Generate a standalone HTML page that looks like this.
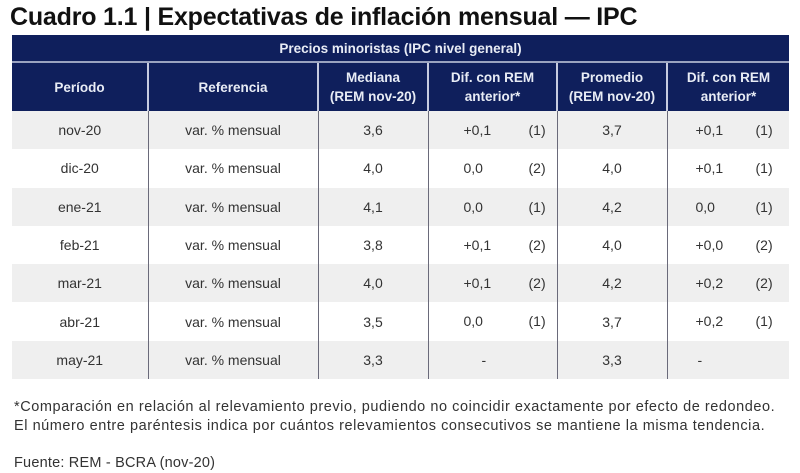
<!DOCTYPE html>
<html><head><meta charset="utf-8"><style>
body{margin:0;width:800px;height:473px;background:#fff;font-family:"Liberation Sans",Arial,sans-serif;position:relative;overflow:hidden;color:#333}
.t{position:absolute;left:10px;top:3px;font-size:25px;font-weight:bold;color:#111;letter-spacing:-0.2px}
table{position:absolute;left:12px;top:35px;border-collapse:collapse;width:777px;table-layout:fixed}
th{background:#0f1f5c;color:#e8ecf5;font-size:13.5px;font-weight:bold;text-align:center;line-height:19px;padding:0}
tr.h1 th{height:26px;border-bottom:2px solid #9aa3c0}
tr.h2 th{height:48px;border-left:2px solid #c6cbe0}
tr.h2 th:first-child{border-left:none}
td{font-size:14px;text-align:center;height:38.3px;padding:0;border-left:1.5px solid #6a6a7a;color:#333}
td:first-child{border-left:none}
tr.g td{background:#efefef}
td.d{position:relative}
td.d span{position:absolute;top:11px}
.n{position:absolute;font-size:14.5px;letter-spacing:0.55px;color:#333}
</style></head><body>
<div class="t">Cuadro 1.1 | Expectativas de inflación mensual — IPC</div>
<table>
<colgroup><col style="width:136px"><col style="width:170px"><col style="width:110px"><col style="width:129px"><col style="width:110px"><col style="width:122px"></colgroup>
<tr class="h1"><th colspan="6">Precios minoristas (IPC nivel general)</th></tr>
<tr class="h2">
<th>Período</th>
<th>Referencia</th>
<th>Mediana<br>(REM nov-20)</th>
<th>Dif. con REM<br>anterior*</th>
<th>Promedio<br>(REM nov-20)</th>
<th>Dif. con REM<br>anterior*</th>
</tr>
<tbody id="tb"></tbody>
</table>
<div class="n" style="left:14px;top:399px">*Comparación en relación al relevamiento previo, pudiendo no coincidir exactamente por efecto de redondeo.</div>
<div class="n" style="left:14px;top:418px">El número entre paréntesis indica por cuántos relevamientos consecutivos se mantiene la misma tendencia.</div>
<div class="n" style="left:14px;top:455px;letter-spacing:0.2px">Fuente: REM - BCRA (nov-20)</div>
<script>
const periods=["nov-20","dic-20","ene-21","feb-21","mar-21","abr-21","may-21"];
const medianas=["3,6","4,0","4,1","3,8","4,0","3,5","3,3"];
const difMed=["+0,1","0,0","0,0","+0,1","+0,1","0,0","-"];
const difMedN=["(1)","(2)","(1)","(2)","(2)","(1)",""];
const promedios=["3,7","4,0","4,2","4,0","4,2","3,7","3,3"];
const difProm=["+0,1","+0,1","0,0","+0,0","+0,2","+0,2","-"];
const difPromN=["(1)","(1)","(1)","(2)","(2)","(1)",""];
const tb=document.getElementById('tb');
periods.forEach((p,i)=>{
 const tr=document.createElement('tr');
 if(i%2===0)tr.className='g';
 
 
 const dif=(v,n,l1,l2)=>`<td class="d"><span style="left:${l1}px">${v}</span><span style="left:${l2}px">${n}</span></td>`;
 tr.innerHTML=`<td>${p}</td><td>var. % mensual</td><td>${medianas[i]}</td>`+
  dif(difMed[i],difMedN[i],difMed[i]==='-'?53:35,100)+`<td>${promedios[i]}</td>`+
  dif(difProm[i],difPromN[i],difProm[i]==='-'?30:28,88);
 tb.appendChild(tr);
});
</script>
</body></html>
